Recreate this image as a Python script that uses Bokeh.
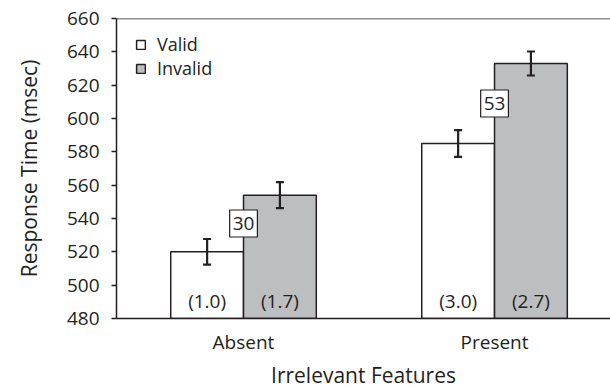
from bokeh.plotting import figure
from bokeh.models import (ColumnDataSource, Range1d, FixedTicker, Whisker, TeeHead,
                          Legend, LegendItem, Span)
from bokeh.embed import file_html
from bokeh.resources import INLINE
from bokeh.core.properties import value

# ---- data ----
categories = ["Absent", "Present"]
conditions = ["Valid", "Invalid"]
valid_rt = [520, 585]
invalid_rt = [554, 633]
valid_err = [7.7, 8.0]
invalid_err = [7.8, 7.2]
valid_n = ["(1.0)", "(3.0)"]
invalid_n = ["(1.7)", "(2.7)"]
diff_labels = ["30", "53"]
y_ticks = [480, 500, 520, 540, 560, 580, 600, 620, 640, 660]
x_title = "Irrelevant Features"
y_title = "Response Time (msec)"

FONT = "Open Sans"
INK = "#231f20"
GRAY = "#bcbec0"
BAR_W = 0.29
HALF = BAR_W / 2

xc = [i + 1 for i in range(len(categories))]
xv = [x - HALF for x in xc]
xi = [x + HALF for x in xc]

src_v = ColumnDataSource(dict(x=xv, top=valid_rt,
                              upper=[a + e for a, e in zip(valid_rt, valid_err)],
                              lower=[a - e for a, e in zip(valid_rt, valid_err)],
                              n=valid_n))
src_i = ColumnDataSource(dict(x=xi, top=invalid_rt,
                              upper=[a + e for a, e in zip(invalid_rt, invalid_err)],
                              lower=[a - e for a, e in zip(invalid_rt, invalid_err)],
                              n=invalid_n))
src_d = ColumnDataSource(dict(x=xc,
                              y=[(a + b) / 2 for a, b in zip(valid_rt, invalid_rt)],
                              t=diff_labels))

p = figure(width=610, height=391, output_backend="svg", toolbar_location=None,
           x_range=Range1d(0.494, 2.462), y_range=Range1d(480, 660),
           min_border_left=116, min_border_right=0, min_border_top=18,
           min_border_bottom=73)
p.outline_line_color = None
p.grid.visible = False
p.background_fill_color = "white"

rv = p.vbar(x="x", top="top", bottom=480, width=BAR_W, source=src_v,
            fill_color="white", line_color=INK, line_width=1.5)
ri = p.vbar(x="x", top="top", bottom=480, width=BAR_W, source=src_i,
            fill_color=GRAY, line_color=INK, line_width=1.5)

for s in (src_v, src_i):
    w = Whisker(base="x", upper="upper", lower="lower", source=s, level="overlay",
                line_color=INK, line_width=2.2,
                upper_head=TeeHead(size=8, line_color=INK, line_width=2.2),
                lower_head=TeeHead(size=8, line_color=INK, line_width=2.2))
    p.add_layout(w)

for s in (src_v, src_i):
    p.text(x="x", y=480, text="n", source=s, y_offset=-18,
           text_font=value(FONT), text_font_size="19px", text_color=INK,
           text_align="center", text_baseline="middle")

p.text(x="x", y="y", text="t", source=src_d,
       text_font=value(FONT), text_font_size="19px", text_color=INK,
       text_align="center", text_baseline="middle",
       background_fill_color="white", border_line_color=INK,
       border_line_width=1.2, padding=(3, 7))

p.add_layout(Span(location=660, dimension="width", line_color=INK, line_width=1.5))

# axes
p.yaxis.ticker = FixedTicker(ticks=y_ticks)
p.yaxis.minor_tick_line_color = None
p.yaxis.major_tick_out = 5
p.yaxis.major_tick_in = 0
p.yaxis.major_tick_line_color = INK
p.yaxis.major_tick_line_width = 1.5
p.yaxis.axis_line_color = INK
p.yaxis.axis_line_width = 1.5
p.yaxis.major_label_text_font = FONT
p.yaxis.major_label_text_font_size = "19px"
p.yaxis.major_label_text_color = INK
p.yaxis.major_label_standoff = 12
p.yaxis.axis_label = y_title
p.yaxis.axis_label_text_font = FONT
p.yaxis.axis_label_text_font_size = "21px"
p.yaxis.axis_label_text_font_style = "normal"
p.yaxis.axis_label_text_color = INK
p.yaxis.axis_label_standoff = 21

p.xaxis.ticker = FixedTicker(ticks=xc)
p.xaxis.major_label_overrides = {x: c for x, c in zip(xc, categories)}
p.xaxis.minor_tick_line_color = None
p.xaxis.major_tick_line_color = None
p.xaxis.major_tick_out = 0
p.xaxis.major_tick_in = 0
p.xaxis.axis_line_color = INK
p.xaxis.axis_line_width = 1.5
p.xaxis.major_label_text_font = FONT
p.xaxis.major_label_text_font_size = "19px"
p.xaxis.major_label_text_color = INK
p.xaxis.major_label_text_line_height = 1.0
p.xaxis.major_label_standoff = 10
p.xaxis.axis_label = x_title
p.xaxis.axis_label_text_font = FONT
p.xaxis.axis_label_text_font_size = "21px"
p.xaxis.axis_label_text_font_style = "normal"
p.xaxis.axis_label_text_color = INK
p.xaxis.axis_label_text_line_height = 0.6
p.xaxis.axis_label_standoff = 3

legend = Legend(items=[LegendItem(label=conditions[0], renderers=[rv]),
                       LegendItem(label=conditions[1], renderers=[ri])],
                location=(19, 238), margin=0, padding=0, spacing=-2,
                glyph_width=11, glyph_height=11, label_height=20,
                label_standoff=11, label_text_font=FONT,
                label_text_font_size="18px", label_text_color=INK,
                background_fill_alpha=0, border_line_color=None)
p.add_layout(legend)

open("out.html", "w").write(file_html(p, INLINE))
